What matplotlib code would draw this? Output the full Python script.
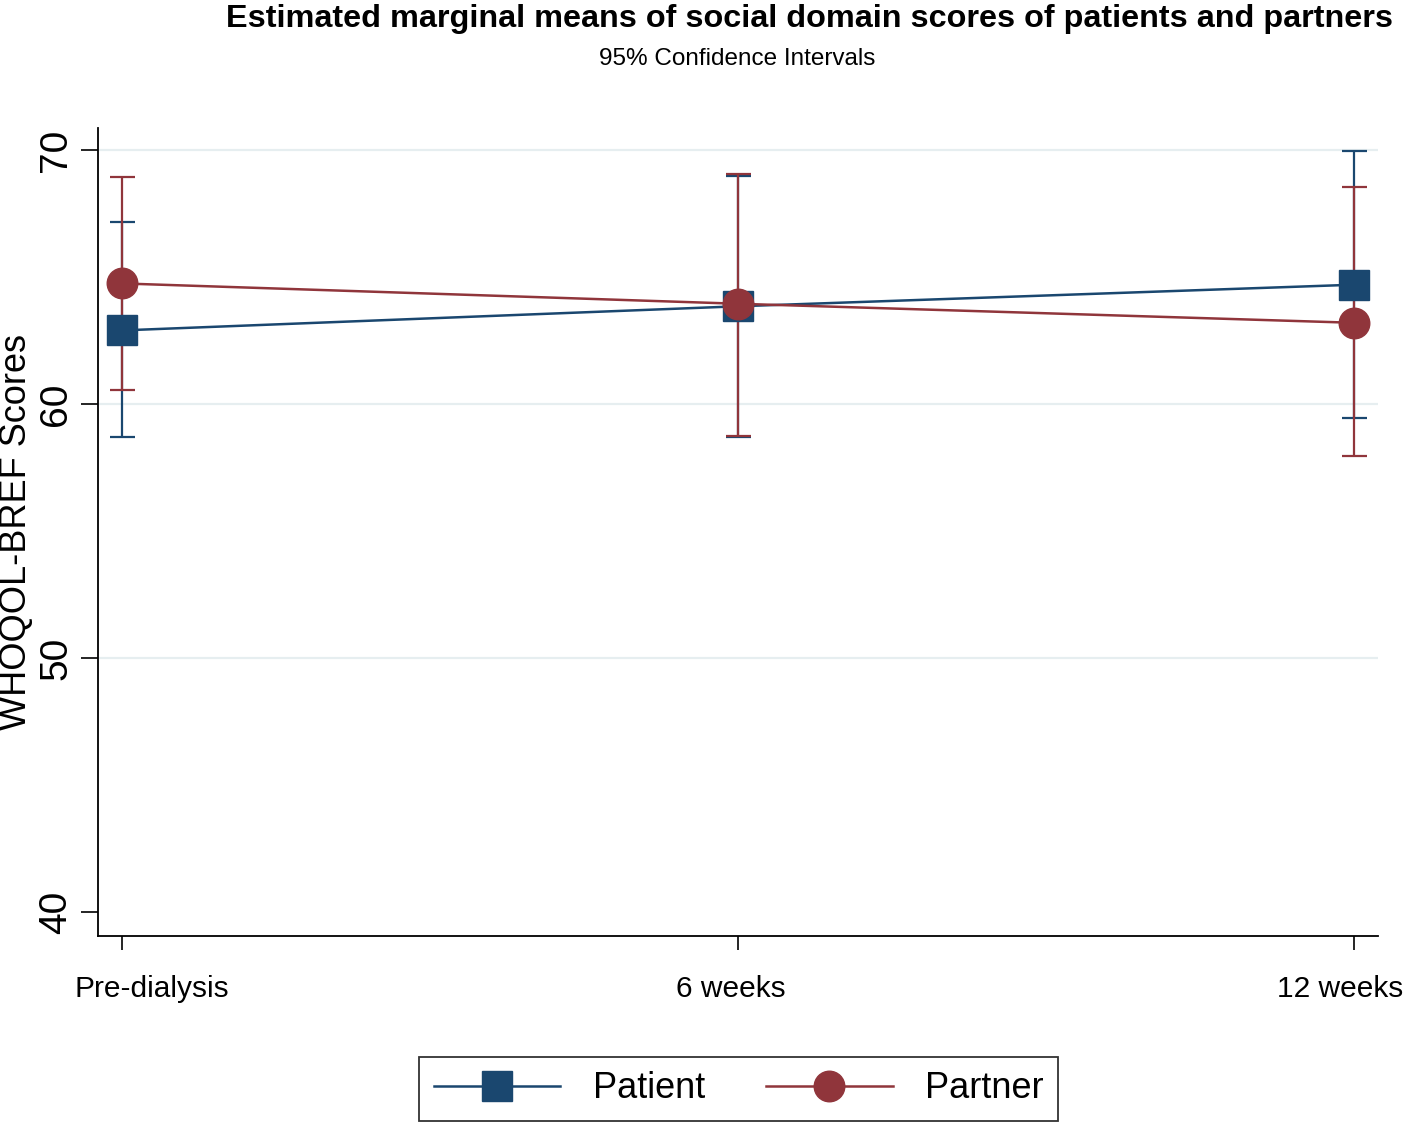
import matplotlib.pyplot as plt
import matplotlib.transforms as mtransforms
import numpy as np

times = ['Pre-dialysis', '6 weeks', '12 weeks']

patient_mean = [62.9, 63.85, 64.7]
patient_lo = [58.7, 58.7, 59.45]
patient_hi = [67.15, 69.0, 69.95]

partner_mean = [64.75, 63.95, 63.2]
partner_lo = [60.55, 58.75, 57.95]
partner_hi = [68.95, 69.05, 68.55]

blue = '#1a476f'
red = '#90353b'
grid_col = '#e6eef0'

plt.rcParams['font.family'] = ['Liberation Sans', 'DejaVu Sans']

fig = plt.figure(figsize=(14.18, 11.26), dpi=100)
ax = fig.add_axes([0.0691, 0.1687, 0.9027, 0.7176])

x = np.arange(len(times))

pm = np.array(patient_mean)
qm = np.array(partner_mean)
p_err = [pm - np.array(patient_lo), np.array(patient_hi) - pm]
q_err = [qm - np.array(partner_lo), np.array(partner_hi) - qm]

ax.errorbar(x, pm, yerr=p_err, fmt='none', ecolor=blue, elinewidth=1.6,
            capsize=9, capthick=1.6, zorder=2)
ax.errorbar(x, qm, yerr=q_err, fmt='none', ecolor=red, elinewidth=1.6,
            capsize=9, capthick=1.6, zorder=3)
ax.plot(x, pm, color=blue, lw=1.8, marker='s', markersize=21,
        markerfacecolor=blue, markeredgecolor=blue, label='Patient', zorder=4)
ax.plot(x, qm, color=red, lw=1.8, marker='o', markersize=22,
        markerfacecolor=red, markeredgecolor=red, label='Partner', zorder=5)

ax.set_xlim(-0.039, 2.039)
ax.set_ylim(39.05, 70.87)

ax.set_yticks([40, 50, 60, 70])
for v in [50, 60, 70]:
    ax.axhline(v, color=grid_col, lw=1.6, zorder=0)

ax.set_xticks(x)
ax.set_xticklabels(times, fontsize=21.5)
ax.tick_params(axis='x', length=10, width=1.2, pad=18)
ax.tick_params(axis='y', length=12, width=1.2, pad=5)
for lab in ax.get_yticklabels():
    lab.set_rotation(90)
    lab.set_va('center')
    lab.set_fontsize(28)

# the x labels in the original sit a little off their ticks
shifts = [0.30, -0.07, -0.14]
for lab, dx in zip(ax.get_xticklabels(), shifts):
    lab.set_transform(lab.get_transform() +
                      mtransforms.ScaledTranslation(dx, 0, fig.dpi_scale_trans))

ax.set_ylabel('WHOQOL-BREF Scores', fontsize=26, va='center')
ax.yaxis.set_label_coords(-0.0635, 0.5)

for s in ['top', 'right']:
    ax.spines[s].set_visible(False)
ax.spines['left'].set_linewidth(1.3)
ax.spines['bottom'].set_linewidth(1.3)

fig.text(0.571, 0.983, 'Estimated marginal means of social domain scores of patients and partners',
         ha='center', va='center', fontsize=23.3, fontweight='bold')
fig.text(0.52, 0.948, '95% Confidence Intervals', ha='center', va='center', fontsize=17.5)

leg = fig.legend(loc='center', bbox_to_anchor=(0.521, 0.033), ncol=2,
                 prop={'size': 26},
                 handlelength=3.5, columnspacing=1.7, handletextpad=0.9,
                 frameon=True, fancybox=False, edgecolor='black', borderpad=0.4)
leg.get_frame().set_linewidth(1.3)

fig.savefig('out.png', dpi=100)
